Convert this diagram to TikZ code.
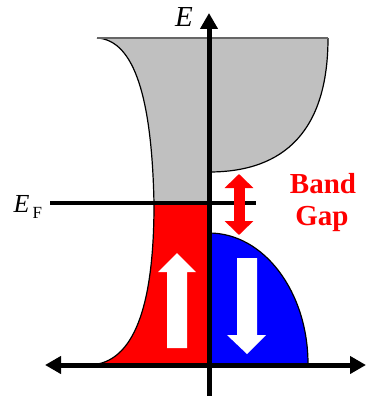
\documentclass[tikz,border=0pt]{standalone}
\usepackage{fontspec}
\setmainfont{Liberation Serif}
\usetikzlibrary{arrows.meta}
\definecolor{bandgrey}{HTML}{C0C0C0}
\definecolor{bandred}{HTML}{FF0000}
\definecolor{bandblue}{HTML}{0000FF}
\tikzset{
  axisline/.style={line width=5pt, -{Triangle[length=16pt,width=17pt]}},
  outline/.style={line width=1.2pt, draw=black},
  spinarrow/.style={fill=white, draw=none},
  gaparrow/.style={line width=11pt, draw=bandred, {Triangle[length=14pt,width=28pt]}-{Triangle[length=14pt,width=28pt]}},
  lbl/.style={inner sep=0pt, anchor=base},
}
\begin{document}
\begin{tikzpicture}[x=1pt,y=-1pt]
\useasboundingbox (0,0) rectangle (370,396);
% grey conduction band (both spins)
\fill[bandgrey] (97,38) .. controls (135,40) and (152,100) .. (154,204)
  -- (209,204) -- (209,172) .. controls (285,172) and (328,130) .. (328,38) -- cycle;
\draw[outline] (97,38) .. controls (135,40) and (152,100) .. (154,204);
\draw[outline] (209,172) .. controls (285,172) and (328,130) .. (328,38);
\draw[line width=1.5pt, draw=black!60] (97,38) -- (328,38);
% red spin-up valence band
\fill[bandred] (154,204) .. controls (154,290) and (140,355) .. (98,364)
  -- (209,364) -- (209,204) -- cycle;
\draw[outline] (154,204) .. controls (154,290) and (140,355) .. (98,364);
% blue spin-down band
\fill[bandblue] (209,233) .. controls (264,233) and (308,292) .. (308,364)
  -- (209,364) -- cycle;
\draw[outline] (209,233) .. controls (264,233) and (308,292) .. (308,364);
% white spin arrows
\fill[spinarrow] (177,253) -- (196,272) -- (187,272) -- (187,348) -- (167,348)
  -- (167,272) -- (158,272) -- cycle;
\fill[spinarrow] (247,354) -- (266,335) -- (257,335) -- (257,258) -- (237,258)
  -- (237,335) -- (227,335) -- cycle;
% axes
\coordinate (ybot) at (209,396);
\coordinate (ytop) at (209,13);
\coordinate (xmid) at (209,365);
\coordinate (xl) at (45,365);
\coordinate (xr) at (366,365);
\draw[axisline] (ybot) -- (ytop);
\draw[axisline] (xmid) -- (xl);
\draw[axisline] (xmid) -- (xr);
% Fermi level
\coordinate (efl) at (50,203);
\coordinate (efr) at (256,203);
\draw[line width=4pt] (efl) -- (efr);
% band gap arrow
\coordinate (gtop) at (239,174);
\coordinate (gbot) at (239,235);
\draw[gaparrow] (gtop) -- (gbot);
% labels
\node[lbl, font=\fontsize{29}{29}\selectfont\itshape] (elabel) at (184,27) {E};
\node[lbl, font=\fontsize{26}{26}\selectfont\itshape] (eflabel) at (21.5,212) {E};
\node[lbl, font=\fontsize{17}{17}\selectfont, anchor=base west] (fsub) at (32.5,218) {F};
\node[lbl, font=\fontsize{29}{32}\selectfont\bfseries, text=bandred] (band) at (323,193) {Band};
\node[lbl, font=\fontsize{29}{32}\selectfont\bfseries, text=bandred] (gap) at (322,225) {Gap};
\end{tikzpicture}
\end{document}
